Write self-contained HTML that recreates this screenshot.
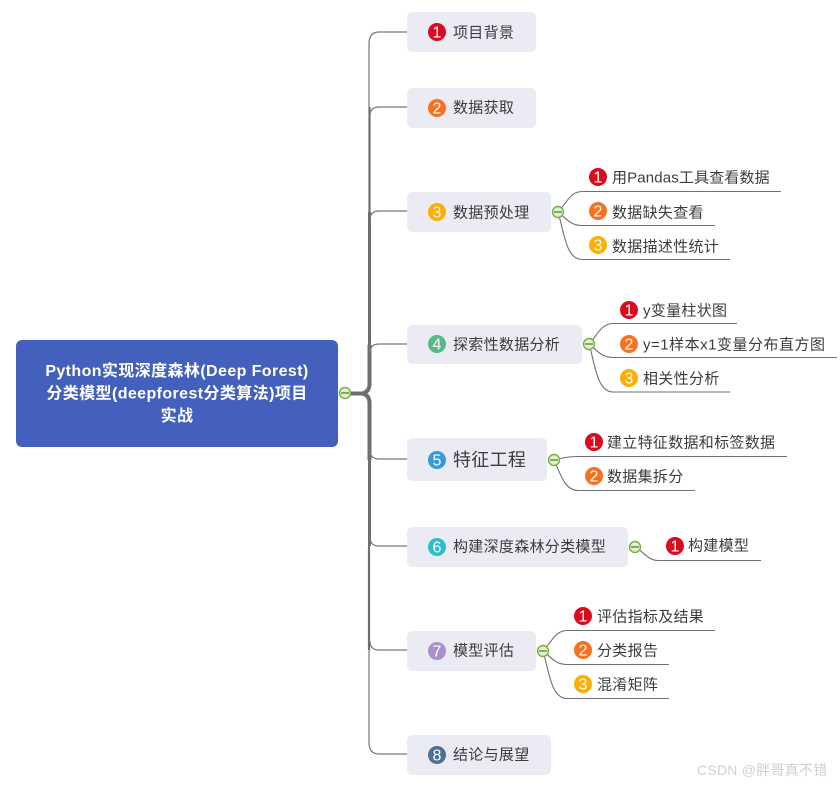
<!DOCTYPE html>
<html lang="zh">
<head>
<meta charset="utf-8">
<title>Python实现深度森林(Deep Forest)分类模型</title>
<style>
html,body{margin:0;padding:0;background:#fff}
svg{display:block}
text{font-family:"Liberation Sans","Noto Sans CJK SC",sans-serif}
.t{font-size:15px;fill:#3c3c3c;dominant-baseline:central;letter-spacing:.3px}
.n{font-size:16px;fill:#fff;text-anchor:middle;dominant-baseline:central;transform:translateY(1px)}
.r{font-size:16px;font-weight:bold;fill:#fff;text-anchor:middle;letter-spacing:.4px}
.b{fill:#eaebf3}
.l{fill:none;stroke:#707070;stroke-width:1.1}
.c{fill:#dff0d0;stroke:#75b041;stroke-width:1.4}
.m{stroke:#4d7a2a;stroke-width:1.2}
</style>
</head>
<body>
<svg width="840" height="786" viewBox="0 0 840 786" xmlns="http://www.w3.org/2000/svg">
<rect width="840" height="786" fill="#fff"/>

<!-- trunk -->
<g fill="none" stroke="#6e6e6e" stroke-linecap="butt">
<path d="M350 393.500H362Q369.500 392 369.500 384V345" stroke-width="4"/>
<path d="M362 393.500Q369.500 395 369.500 403V460" stroke-width="4"/>
<path d="M369.500 345V212" stroke-width="3"/>
<path d="M369.500 212V107" stroke-width="2.200"/>
<path d="M369 107V44Q369 32 379 32H407" stroke-width="1.200" stroke="#777"/>
<path d="M369.500 460V546" stroke-width="3"/>
<path d="M369 546V650" stroke-width="2.200"/>
<path d="M369 650V742Q369 754 379 754H407" stroke-width="1.200" stroke="#777"/>
<path d="M370 116Q370 107 379 107H407" stroke-width="1.200" stroke="#777"/>
<path d="M370 220Q370 211 379 211H407" stroke-width="1.200" stroke="#777"/>
<path d="M370 353Q370 344 379 344H407" stroke-width="1.200" stroke="#777"/>
<path d="M370 450Q370 459 379 459H407" stroke-width="1.200" stroke="#777"/>
<path d="M370 537Q370 546 379 546H407" stroke-width="1.200" stroke="#777"/>
<path d="M370 641Q370 650 379 650H407" stroke-width="1.200" stroke="#777"/>
</g>

<!-- sub connectors -->
<path class="l" d="M558 212C566 204 570 191.500 582 191.500H781"/>
<path class="l" d="M558 212C566 218 570 225.500 582 225.500H715"/>
<path class="l" d="M558 212C564 232 566 259.500 582 259.500H730"/>
<path class="l" d="M589 344C597 336 601 323.500 613 323.500H737"/>
<path class="l" d="M589 344C597 350 601 357.500 613 357.500H837"/>
<path class="l" d="M589 344C595 364 597 392 613 392H730"/>
<path class="l" d="M554 460C562 458 568 456.500 578 456.500H787"/>
<path class="l" d="M554 460C560 472 564 490.500 578 490.500H695"/>
<path class="l" d="M635 547C643 551 648 560.500 658 560.500H761"/>
<path class="l" d="M543 651C551 643 555 630.500 567 630.500H715"/>
<path class="l" d="M543 651C551 657 555 664.500 567 664.500H669"/>
<path class="l" d="M543 651C549 671 551 698.500 567 698.500H669"/>

<!-- root -->
<rect x="16" y="340" width="322" height="107" rx="6" fill="#4360bc"/>
<text class="r" x="177" y="376">Python实现深度森林(Deep Forest)</text>
<text class="r" x="177" y="398.500">分类模型(deepforest分类算法)项目</text>
<text class="r" x="177" y="421">实战</text>

<!-- main nodes -->
<rect class="b" x="407" y="12" width="129" height="40" rx="5"/>
<rect class="b" x="407" y="88" width="129" height="40" rx="5"/>
<rect class="b" x="407" y="192" width="144" height="40" rx="5"/>
<rect class="b" x="407" y="325" width="175" height="39" rx="5"/>
<rect class="b" x="407" y="438" width="140" height="43" rx="5"/>
<rect class="b" x="407" y="527" width="221" height="40" rx="5"/>
<rect class="b" x="407" y="631" width="129" height="40" rx="5"/>
<rect class="b" x="407" y="735" width="144" height="40" rx="5"/>

<circle cx="437" cy="32" r="9" fill="#dc0a1e"/><text class="n" x="437" y="32">1</text>
<circle cx="437" cy="108" r="9" fill="#f97120"/><text class="n" x="437" y="108">2</text>
<circle cx="437" cy="212" r="9" fill="#fdae00"/><text class="n" x="437" y="212">3</text>
<circle cx="437" cy="344" r="9" fill="#56b987"/><text class="n" x="437" y="344">4</text>
<circle cx="437" cy="460" r="9" fill="#359cdb"/><text class="n" x="437" y="460">5</text>
<circle cx="437" cy="547" r="9" fill="#2ebdcf"/><text class="n" x="437" y="547">6</text>
<circle cx="437" cy="651" r="9" fill="#ac90cc"/><text class="n" x="437" y="651">7</text>
<circle cx="437" cy="755" r="9" fill="#4f6f94"/><text class="n" x="437" y="755">8</text>

<text class="t" x="453" y="33">项目背景</text>
<text class="t" x="453" y="108">数据获取</text>
<text class="t" x="453" y="213">数据预处理</text>
<text class="t" x="453" y="345">探索性数据分析</text>
<text class="t" x="453" y="460" style="font-size:18px">特征工程</text>
<text class="t" x="453" y="547">构建深度森林分类模型</text>
<text class="t" x="453" y="651">模型评估</text>
<text class="t" x="453" y="755">结论与展望</text>

<!-- sub nodes -->
<circle cx="598" cy="177" r="9" fill="#dc0a1e"/><text class="n" x="598" y="177">1</text>
<text class="t" x="612" y="178" style="letter-spacing:.15px">用Pandas工具查看数据</text>
<circle cx="598" cy="211" r="9" fill="#f97120"/><text class="n" x="598" y="211">2</text>
<text class="t" x="612" y="213">数据缺失查看</text>
<circle cx="598" cy="245" r="9" fill="#fdae00"/><text class="n" x="598" y="245">3</text>
<text class="t" x="612" y="247">数据描述性统计</text>

<circle cx="629" cy="310" r="9" fill="#dc0a1e"/><text class="n" x="629" y="310">1</text>
<text class="t" x="643" y="311">y变量柱状图</text>
<circle cx="629" cy="344" r="9" fill="#f97120"/><text class="n" x="629" y="344">2</text>
<text class="t" x="643" y="345" style="letter-spacing:.5px">y=1样本x1变量分布直方图</text>
<circle cx="629" cy="378" r="9" fill="#fdae00"/><text class="n" x="629" y="378">3</text>
<text class="t" x="643" y="379">相关性分析</text>

<circle cx="594" cy="442" r="9" fill="#dc0a1e"/><text class="n" x="594" y="442">1</text>
<text class="t" x="607" y="443">建立特征数据和标签数据</text>
<circle cx="594" cy="476" r="9" fill="#f97120"/><text class="n" x="594" y="476">2</text>
<text class="t" x="607" y="477">数据集拆分</text>

<circle cx="675" cy="546" r="9" fill="#dc0a1e"/><text class="n" x="675" y="546">1</text>
<text class="t" x="688" y="546">构建模型</text>

<circle cx="583" cy="616" r="9" fill="#dc0a1e"/><text class="n" x="583" y="616">1</text>
<text class="t" x="597" y="617">评估指标及结果</text>
<circle cx="583" cy="650" r="9" fill="#f97120"/><text class="n" x="583" y="650">2</text>
<text class="t" x="597" y="651">分类报告</text>
<circle cx="583" cy="684" r="9" fill="#fdae00"/><text class="n" x="583" y="684">3</text>
<text class="t" x="597" y="685">混淆矩阵</text>

<!-- collapse buttons -->
<g>
<circle class="c" cx="345" cy="393" r="5.500"/><path class="m" d="M341 393H349"/>
<circle class="c" cx="558" cy="212" r="5.500"/><path class="m" d="M554 212H562"/>
<circle class="c" cx="589" cy="344" r="5.500"/><path class="m" d="M585 344H593"/>
<circle class="c" cx="554" cy="460" r="5.500"/><path class="m" d="M550 460H558"/>
<circle class="c" cx="635" cy="547" r="5.500"/><path class="m" d="M631 547H639"/>
<circle class="c" cx="543" cy="651" r="5.500"/><path class="m" d="M539 651H547"/>
</g>

<!-- watermark -->
<text x="697" y="775" style="font-size:14px;fill:#cfcfcf;letter-spacing:.25px">CSDN @胖哥真不错</text>
</svg>
</body>
</html>
